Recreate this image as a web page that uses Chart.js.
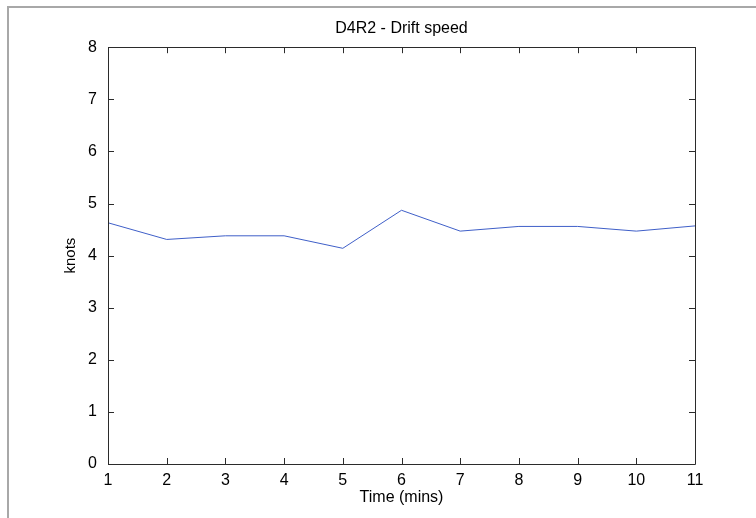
<!DOCTYPE html>
<html>
<head>
<meta charset="utf-8">
<script src="https://cdn.jsdelivr.net/npm/chart.js@4/dist/chart.umd.min.js"></script>
<style>
  html, body { margin: 0; padding: 0; background: #fff; }
  #wrap { position: relative; width: 756px; height: 518px; }
  #frame {
    position: absolute; left: 7px; top: 6px; right: 0; bottom: 0;
    border-top: 2px solid #a8a8a8; border-left: 2px solid #a8a8a8;
    pointer-events: none;
  }
</style>
</head>
<body>
<div id="wrap">
  <canvas id="driftChart" width="756" height="518"></canvas>
  <div id="frame"></div>
</div>
<script>
// data
const minutes = [1, 2, 3, 4, 5, 6, 7, 8, 9, 10, 11];
const speedKnots = [4.63, 4.31, 4.38, 4.38, 4.14, 4.87, 4.47, 4.56, 4.56, 4.47, 4.57];
const xTicks = [1, 2, 3, 4, 5, 6, 7, 8, 9, 10, 11];
const yTicks = [0, 1, 2, 3, 4, 5, 6, 7, 8];

const axisColor = "#2b2b2b";
const tickLen = 6;

// box round the axes with inward ticks on all four sides
const boxPlugin = {
    id: "matlabBox",
    afterDraw(chart) {
        const ctx = chart.ctx;
        const a = chart.chartArea;
        const xs = chart.scales.x;
        const ys = chart.scales.y;
        ctx.save();
        ctx.strokeStyle = axisColor;
        ctx.lineWidth = 1;
        ctx.beginPath();
        ctx.rect(Math.round(a.left) + 0.5, Math.round(a.top) + 0.5,
                 Math.round(a.right - a.left), Math.round(a.bottom - a.top));
        for (const v of xTicks) {
            const px = Math.round(xs.getPixelForValue(v)) + 0.5;
            ctx.moveTo(px, a.bottom); ctx.lineTo(px, a.bottom - tickLen);
            ctx.moveTo(px, a.top); ctx.lineTo(px, a.top + tickLen);
        }
        for (const v of yTicks) {
            const py = Math.round(ys.getPixelForValue(v)) + 0.5;
            ctx.moveTo(a.left, py); ctx.lineTo(a.left + tickLen, py);
            ctx.moveTo(a.right, py); ctx.lineTo(a.right - tickLen, py);
        }
        ctx.stroke();
        ctx.restore();
    }
};

const font = {family: "'Liberation Sans', Arial, sans-serif", size: 16};

new Chart("driftChart", {
    type: "line",
    data: {
        datasets: [{
            data: minutes.map((m, i) => ({x: m, y: speedKnots[i]})),
            borderColor: "#3f5fc8",
            borderWidth: 1,
            pointRadius: 0,
            tension: 0,
            fill: false
        }]
    },
    options: {
        responsive: false,
        animation: false,
        // left padding keeps the title centred over the axes, like MATLAB
        layout: {padding: {left: 47, right: 0, top: 0, bottom: 0}},
        plugins: {
            legend: {display: false},
            tooltip: {enabled: false},
            title: {
                display: true,
                text: "D4R2 - Drift speed",
                color: "#000",
                font: {family: font.family, size: 16, weight: "normal"},
                padding: {top: 19, bottom: 9}
            }
        },
        scales: {
            x: {
                type: "linear",
                min: 1,
                max: 11,
                afterBuildTicks: s => { s.ticks = xTicks.map(v => ({value: v})); },
                afterFit: s => { s.height = 54; },
                grid: {display: false, drawTicks: false},
                border: {display: false},
                ticks: {color: "#000", font: font, padding: 7, maxRotation: 0},
                title: {
                    display: true,
                    text: "Time (mins)",
                    color: "#000",
                    font: font,
                    padding: {top: 0, bottom: 11}
                }
            },
            y: {
                min: 0,
                max: 8,
                afterBuildTicks: s => { s.ticks = yTicks.map(v => ({value: v})); },
                afterFit: s => { s.width = 61; },
                grid: {display: false, drawTicks: false},
                border: {display: false},
                ticks: {color: "#000", font: font, padding: 11},
                title: {
                    display: true,
                    text: "knots",
                    color: "#000",
                    font: {family: font.family, size: 15},
                    padding: {top: 15, bottom: 0}
                }
            },
            // empty right axis only reserves the margin on the right
            y2: {
                position: "right",
                min: 0,
                max: 8,
                afterFit: s => { s.width = 61; },
                grid: {display: false, drawTicks: false},
                border: {display: false},
                ticks: {display: false}
            }
        }
    },
    plugins: [boxPlugin]
});
</script>
</body>
</html>
